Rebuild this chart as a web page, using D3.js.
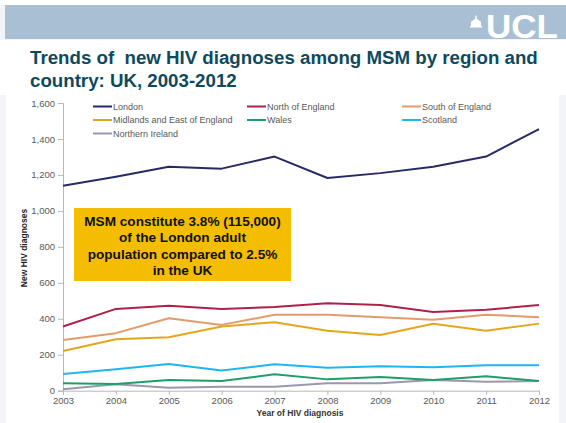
<!DOCTYPE html>
<html>
<head>
<meta charset="utf-8">
<script src="https://cdn.jsdelivr.net/npm/d3@7"></script>
<style>
  html, body { margin: 0; padding: 0; background: #ffffff; }
  svg { display: block; font-family: Arial, "Liberation Sans", sans-serif; }
</style>
</head>
<body>
<svg id="chart" width="566" height="423"></svg>
<script>
// Years on the x axis
const years = [2003, 2004, 2005, 2006, 2007, 2008, 2009, 2010, 2011, 2012];
const yTicks = [0, 200, 400, 600, 800, 1000, 1200, 1400, 1600];

// New diagnoses among MSM per region / country
const london          = [1140, 1190, 1245, 1235, 1302, 1183, 1210, 1245, 1302, 1455];
const northEngland    = [357, 455, 472, 455, 465, 487, 477, 438, 450, 476];
const southEngland    = [282, 320, 403, 366, 422, 423, 409, 394, 423, 409];
const midlandsEast    = [221, 286, 297, 357, 381, 334, 310, 372, 334, 373];
const wales           = [41, 37, 60, 54, 91, 63, 76, 60, 80, 54];
const scotland        = [93, 119, 149, 112, 147, 127, 136, 131, 142, 142];
const northernIreland = [8, 36, 17, 22, 22, 41, 41, 60, 50, 54];

const seriesNames  = ["London", "North of England", "South of England",
                      "Midlands and East of England", "Wales", "Scotland", "Northern Ireland"];
const seriesValues = [london, northEngland, southEngland, midlandsEast, wales, scotland, northernIreland];
const seriesColors = ["#262b66", "#b0214a", "#e59a6a", "#e3a71e", "#1f9e6a", "#1fb5ee", "#9a98ac"];

const noteLines = ["MSM constitute 3.8% (115,000)", "of the London adult",
                   "population compared to 2.5%", "in the UK"];

const svg = d3.select("#chart");

// slide background and chart panel
svg.append("rect").attr("width", 566).attr("height", 423).attr("fill", "#f3f4f8");
svg.append("rect").attr("x", 6).attr("y", 40).attr("width", 553).attr("height", 383).attr("fill", "#ffffff");
svg.append("rect").attr("x", 0).attr("y", 0).attr("width", 566).attr("height", 5).attr("fill", "#ffffff");
svg.append("rect").attr("x", 0).attr("y", 40).attr("width", 566).attr("height", 55).attr("fill", "#ffffff");

// header band with logo
svg.append("rect").attr("x", 5).attr("y", 5).attr("width", 561).attr("height", 34).attr("fill", "#a9bfd3");
const logo = svg.append("g").attr("fill", "#ffffff");
logo.append("rect").attr("x", 471).attr("y", 22).attr("width", 10).attr("height", 5);
logo.append("rect").attr("x", 470).attr("y", 26).attr("width", 12).attr("height", 1.5);
logo.append("path").attr("d", "M471,22 L476,18 L481,22 Z");
logo.append("rect").attr("x", 475.3).attr("y", 15.5).attr("width", 1.4).attr("height", 3);
logo.append("text").attr("x", 486).attr("y", 38).attr("font-size", 34).attr("font-weight", "bold")
  .attr("textLength", 72).attr("lengthAdjust", "spacingAndGlyphs").text("UCL");

// title
const title = svg.append("text").attr("fill", "#0d4a60").attr("font-size", 18.7).attr("font-weight", "bold");
title.append("tspan").attr("x", 30).attr("y", 64).attr("xml:space", "preserve")
  .text("Trends of  new HIV diagnoses among MSM by region and");
title.append("tspan").attr("x", 30).attr("y", 87).text("country: UK, 2003-2012");

// scales
const x = d3.scalePoint().domain(years).range([63, 539]);
const y = d3.scaleLinear().domain([0, 1600]).range([390.7, 103]);

// axes
const yAxis = svg.append("g").attr("transform", "translate(63,0)")
  .call(d3.axisLeft(y).tickValues(yTicks).tickFormat(d3.format(",")).tickSize(5).tickPadding(3));
const xAxis = svg.append("g").attr("transform", "translate(0,390.7)")
  .call(d3.axisBottom(x).tickSize(4).tickPadding(3));
[yAxis, xAxis].forEach(g => {
  g.selectAll("path, line").attr("stroke", "#b8b8b8");
  g.selectAll("text").attr("fill", "#595959").attr("font-size", 9.5).attr("font-family", "Arial, 'Liberation Sans', sans-serif");
});

// axis titles
svg.append("text").attr("transform", "translate(27,248) rotate(-90)").attr("text-anchor", "middle")
  .attr("font-size", 8.5).attr("font-weight", "bold").attr("fill", "#222").text("New HIV diagnoses");
svg.append("text").attr("x", 300).attr("y", 416).attr("text-anchor", "middle")
  .attr("font-size", 8.5).attr("font-weight", "bold").attr("fill", "#333").text("Year of HIV diagnosis");

// lines (London drawn last so it stays on top)
const line = d3.line().x((d, i) => x(years[i])).y(d => y(d));
const order = [6, 4, 5, 3, 2, 1, 0];
order.forEach(k => {
  svg.append("path").datum(seriesValues[k]).attr("d", line)
    .attr("fill", "none").attr("stroke", seriesColors[k]).attr("stroke-width", 2)
    .attr("stroke-linejoin", "round");
});

// legend
const legendPos = [[93, 106.5], [247, 106.5], [402, 106.5], [93, 120], [247, 120], [402, 120], [93, 133.5]];
seriesNames.forEach((name, k) => {
  const [lx, ly] = legendPos[k];
  svg.append("line").attr("x1", lx).attr("x2", lx + 19).attr("y1", ly).attr("y2", ly)
    .attr("stroke", seriesColors[k]).attr("stroke-width", 2);
  svg.append("text").attr("x", lx + 20).attr("y", ly + 3.3).attr("font-size", 9)
    .attr("fill", "#595959").text(name);
});

// annotation box
svg.append("rect").attr("x", 74).attr("y", 208).attr("width", 217).attr("height", 73).attr("fill", "#f5bd00");
noteLines.forEach((t, i) => {
  svg.append("text").attr("x", 182.5).attr("y", 225.8 + i * 16.4).attr("text-anchor", "middle")
    .attr("font-size", 13.6).attr("font-weight", "bold").attr("fill", "#111").text(t);
});
</script>
</body>
</html>
